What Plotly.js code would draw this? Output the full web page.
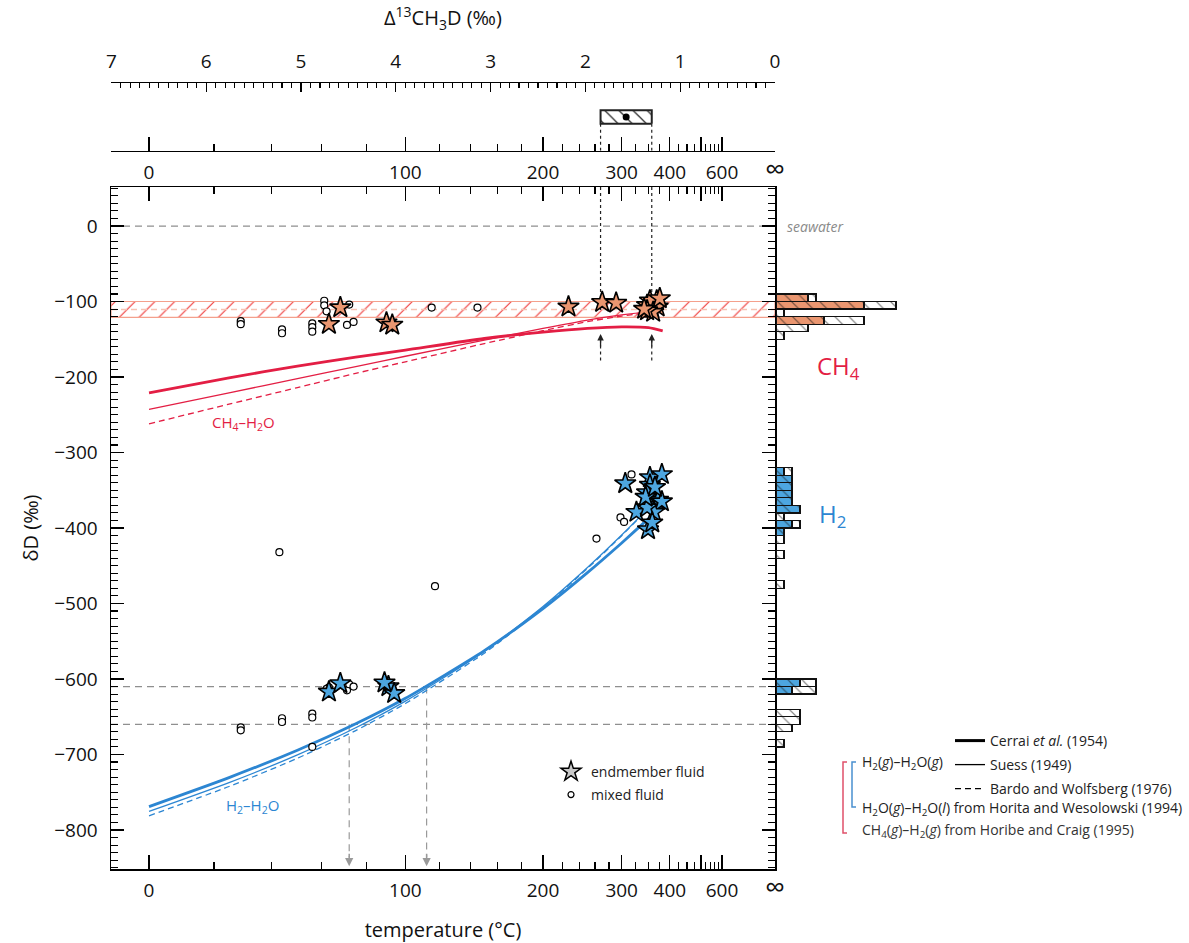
<!DOCTYPE html>
<html><head><meta charset="utf-8">
<script src="https://cdn.plot.ly/plotly-3.0.1.min.js"></script>
<style>html,body{margin:0;padding:0;background:#fff}</style>
</head><body><div id="chart" style="width:1189px;height:943px"></div>
<script>
// ---------------- data ----------------
const tempTickValues = [0,100,200,300,400,500,600,Infinity];
const tempTickLabels = ['0','100','200','300','400','','600','<span style="font-size:28px">∞</span>'];
const tempMinorTicks = [20,40,60,80,120,140,160,180,220,240,260,280,325,350,375,425,450,475,520,540,560,580];
const yTickValues = [-800,-700,-600,-500,-400,-300,-200,-100,0];
const yTickLabels = ['−800','−700','−600','−500','−400','−300','−200','−100','0'];

const curveTemps = [0,25,50,75,100,150,200,250,300,350,382];
const ch4Cerrai = [-221,-201,-185.6,-173.7,-164.3,-149,-140.5,-135.5,-133.5,-134.5,-139];
const ch4Suess  = [-243,-221,-202.2,-186.2,-172.5,-151.2,-135.7,-124.6,-117.8,-113.8,-112.4];
const ch4Bardo  = [-262,-236,-214,-195.2,-179.8,-155.7,-138.7,-126.7,-119.2,-114.9,-113.2];
const h2Cerrai  = [-769,-730.6,-694.3,-659.4,-625.6,-562.4,-506.7,-459.1,-419.8,-387.6,-370.5];
const h2Suess   = [-775.5,-737.3,-700.5,-664.6,-629.3,-563.5,-503.9,-452.3,-409.3,-373,-351];
const h2Bardo   = [-781.2,-742.4,-705,-668.3,-632.5,-565.8,-505.7,-453.6,-410.2,-373.7,-351.6];

const ch4EndTemp = [68,63,90,93,227,270,291,347,358,368,370,353,360,347,375,341];
const ch4EndDD   = [-108,-130,-128,-131,-107,-101,-102,-105,-109,-99,-107,-99,-114,-112,-96,-110];
const ch4MixTemp = [29,29,44,44,56,56,56,61,61,62,72,71,74,115,145];
const ch4MixDD   = [-126,-130,-137,-142,-129,-134,-140,-99,-105,-113,-104,-131,-127,-108,-108];

const h2EndTemp = [306,353,380,353,347,358,371,380,362,326,347,349,358,344,364,63,68,91,94,89];
const h2EndDD   = [-341,-333,-329,-343,-353,-359,-363,-365,-379,-379,-373,-402,-393,-359,-346,-617,-606,-610,-619,-605];
const h2MixTemp = [317,298,304,262,43,117,63,71,72,74,62,29,29,44,44,56,56,56];
const h2MixDD   = [-329,-386,-392,-414,-432,-477,-611,-615,-607,-610,-613,-664,-668,-652,-657,-646,-651,-690];

const ch4BinCenters = [-95,-105,-115,-125,-135,-145];
const ch4HistEnd    = [4,11,0,6,0,0];
const ch4HistAll    = [5,15,1,11,4,1];
const h2BinCenters  = [-325,-335,-345,-355,-365,-375,-385,-395,-405,-415,-435,-475,-605,-615,-645,-655,-665,-685];
const h2HistEnd     = [1,2,2,2,2,3,0,2,1,0,0,0,3,2,0,0,0,0];
const h2HistAll     = [2,2,2,2,2,3,1,3,1,1,1,1,5,5,3,3,2,1];

const seawaterDD = 0;
const ch4Band = [-121,-100];
const ch4BandMid = -110.5;
const h2RefDD = [-610,-660];
const h2RefTemp = [112,72];
const clumpedRange = [1.30,1.84];
const clumpedMean = 1.57;
const clumpedArrowDD = [-178,-143];

// ---------------- scale: temperature -> Δ13CH3D position ----------------
function tAx(tC){
  if(!isFinite(tC)) return 0;
  const X = 1000/(tC+273.15);
  return X*(-0.56812 + 1.04714*X - 0.10907*X*X);
}
const XMAX = 7.004;
const RED = '#e31e44', BLUE = '#2c86d2';
const ORANGE = '#ea9670', LBLUE = '#4da6e0';
const FONT = 'Open Sans, Noto Sans, sans-serif';

const traces = [];
// CH4 band
traces.push({x:[XMAX,0,0,XMAX,XMAX], y:[ch4Band[1],ch4Band[1],ch4Band[0],ch4Band[0],ch4Band[1]],
  mode:'lines', fill:'toself', fillcolor:'rgba(0,0,0,0)',
  fillpattern:{shape:'/', fgcolor:'#ef3535', bgcolor:'rgba(0,0,0,0)', size:14, solidity:0.08},
  line:{color:'#f4a08c', width:1.2}, showlegend:false, hoverinfo:'skip'});
traces.push({x:[XMAX,0], y:[ch4BandMid,ch4BandMid], mode:'lines', line:{color:'#f6c3b3', width:1.5, dash:'6px,4px'}, showlegend:false});
// reference dashed lines
[seawaterDD].concat(h2RefDD).forEach(v=>{
  traces.push({x:[XMAX,0], y:[v,v], mode:'lines', line:{color:'#8f8f8f', width:1.2, dash:'7px,5px'}, showlegend:false});
});
h2RefTemp.forEach((t,i)=>{
  traces.push({x:[tAx(t),tAx(t)], y:[h2RefDD[i],-836], mode:'lines', line:{color:'#9a9a9a', width:1.2, dash:'7px,5px'}, showlegend:false});
});
// dotted lines from clumped range
clumpedRange.forEach(d=>{
  traces.push({x:[d,d], y:[51.7,-112], mode:'lines', line:{color:'#222', width:1.2, dash:'3px,3px'}, showlegend:false});
  traces.push({x:[d,d], y:[clumpedArrowDD[0],clumpedArrowDD[1]-6], mode:'lines', line:{color:'#222', width:1.2, dash:'3px,3px'}, showlegend:false});
  traces.push({x:[d,d], y:[0,0.4], xaxis:'x3', yaxis:'y3', mode:'lines', line:{color:'#222', width:1.2, dash:'3px,3px'}, showlegend:false});
});
// clumped box
traces.push({x:[clumpedRange[0],clumpedRange[1],clumpedRange[1],clumpedRange[0],clumpedRange[0]], y:[0.4,0.4,0.6,0.6,0.4],
  xaxis:'x3', yaxis:'y3', mode:'lines', fill:'toself', fillcolor:'rgba(0,0,0,0)',
  fillpattern:{shape:'\\', fgcolor:'#222', bgcolor:'rgba(0,0,0,0)', size:10, solidity:0.12},
  line:{color:'#222', width:2}, showlegend:false});
traces.push({x:[clumpedMean], y:[0.5], xaxis:'x3', yaxis:'y3', mode:'markers', marker:{color:'#000', size:7}, showlegend:false});
// placeholder so the top-panel temperature axis is drawn
traces.push({x:[null], y:[null], xaxis:'x4', yaxis:'y3', mode:'markers', showlegend:false});

// curves
const cx = curveTemps.map(tAx);
function curve(y, color, w, dash){
  return {x:cx, y:y, mode:'lines', line:{color:color, width:w, dash:dash||'solid', shape:'spline', smoothing:0.6}, showlegend:false, hoverinfo:'skip'};
}
traces.push(curve(ch4Bardo, RED, 1.3, '6px,4px'));
traces.push(curve(ch4Suess, RED, 1.3));
traces.push(curve(ch4Cerrai, RED, 2.8));
traces.push(curve(h2Bardo, BLUE, 1.3, '6px,4px'));
traces.push(curve(h2Suess, BLUE, 1.3));
traces.push(curve(h2Cerrai, BLUE, 2.8));

// data points
traces.push({x:ch4MixTemp.map(tAx), y:ch4MixDD, mode:'markers', marker:{symbol:'circle', size:7, color:'#fff', line:{color:'#000', width:1.2}}, showlegend:false});
traces.push({x:h2MixTemp.map(tAx), y:h2MixDD, mode:'markers', marker:{symbol:'circle', size:7, color:'#fff', line:{color:'#000', width:1.2}}, showlegend:false});
traces.push({x:ch4EndTemp.map(tAx), y:ch4EndDD, mode:'markers', marker:{symbol:'star', size:16, color:ORANGE, line:{color:'#000', width:1.6}}, showlegend:false});
traces.push({x:h2EndTemp.map(tAx), y:h2EndDD, mode:'markers', marker:{symbol:'star', size:16, color:LBLUE, line:{color:'#000', width:1.6}}, showlegend:false});

// histograms
function hbar(centers, counts, color){
  return {type:'bar', orientation:'h', x:counts, y:centers, width:10, xaxis:'x2', yaxis:'y',
    marker:{color:color, line:{color:'#111', width:1.2},
      pattern:{shape:'\\', fgcolor:'#111', fillmode:'overlay', size:10, solidity:0.12}},
    showlegend:false, hoverinfo:'skip'};
}
traces.push(hbar(ch4BinCenters, ch4HistEnd, ORANGE));
traces.push(hbar(ch4BinCenters, ch4HistAll.map((v,i)=>v-ch4HistEnd[i]), '#ffffff'));
traces.push(hbar(h2BinCenters, h2HistEnd, LBLUE));
traces.push(hbar(h2BinCenters, h2HistAll.map((v,i)=>v-h2HistEnd[i]), '#ffffff'));

// legend dummies
traces.push({x:[null], y:[null], name:'endmember fluid', mode:'markers', marker:{symbol:'star', size:15, color:'#c8c8c8', line:{color:'#000', width:1.5}}, legend:'legend'});
traces.push({x:[null], y:[null], name:'mixed fluid', mode:'markers', marker:{symbol:'circle', size:6, color:'#fff', line:{color:'#000', width:1.2}}, legend:'legend2'});
traces.push({x:[null], y:[null], name:'Cerrai <i>et al.</i> (1954)', mode:'lines', line:{color:'#000', width:3}, legend:'legend3'});
traces.push({x:[null], y:[null], name:'Suess (1949)', mode:'lines', line:{color:'#000', width:1.3}, legend:'legend4'});
traces.push({x:[null], y:[null], name:'Bardo and Wolfsberg (1976)', mode:'lines', line:{color:'#000', width:1.3, dash:'6px,4px'}, legend:'legend5'});

const W=1189, H=943;
const px = v=>v/W, py = v=>1-v/H;
const legBase = {bgcolor:'rgba(0,0,0,0)', borderwidth:0, font:{family:FONT, size:14, color:'#222'}, xanchor:'left', yanchor:'top', itemwidth:30};

const tickVals = tempTickValues.map(tAx);
const minorVals = tempMinorTicks.map(tAx);
const xTempCommon = {
  range:[XMAX,0], tickmode:'array', tickvals:tickVals, ticktext:tempTickLabels,
  ticks:'inside', ticklen:14, tickwidth:1.3, tickcolor:'#000',
  minor:{tickmode:'array', tickvals:minorVals, ticks:'inside', ticklen:7, tickwidth:1.1, tickcolor:'#000'},
  showline:true, linecolor:'#000', linewidth:1.5, showgrid:false, zeroline:false,
  tickfont:{family:FONT, size:19, color:'#111'}, automargin:false
};

function note(text, x, y, size, color, xanchor, refs){
  return Object.assign({text:text, x:x, y:y, xref:'paper', yref:'paper', showarrow:false,
    xanchor:xanchor||'center', yanchor:'middle', font:{family:FONT, size:size, color:color}}, refs||{});
}
const annotations = [
  note('Δ<sup>13</sup>CH<sub>3</sub>D (‰)', px(443), py(18), 20, '#111'),
  note('<i>seawater</i>', px(785), seawaterDD, 14, '#8a8a8a', 'left', {yref:'y'}),
  note('CH<sub>4</sub>', px(838), -187, 24, RED, 'center', {yref:'y'}),
  note('H<sub>2</sub>', px(832), -383, 24, BLUE, 'center', {yref:'y'}),
  note('CH<sub>4</sub>–H<sub>2</sub>O', tAx(30), -261, 15, RED, 'center', {xref:'x', yref:'y'}),
  note('H<sub>2</sub>–H<sub>2</sub>O', tAx(33), -768, 15, BLUE, 'center', {xref:'x', yref:'y'}),
  note('H<sub>2</sub>(<i>g</i>)–H<sub>2</sub>O(<i>g</i>)', px(860), py(762), 14, '#222', 'left'),
  note('H<sub>2</sub>O(<i>g</i>)–H<sub>2</sub>O(<i>l</i>) from Horita and Wesolowski (1994)', px(860), py(808), 14, '#222', 'left'),
  note('CH<sub>4</sub>(<i>g</i>)–H<sub>2</sub>(<i>g</i>) from Horibe and Craig (1995)', px(860), py(830), 14, '#333', 'left')
];
h2RefTemp.forEach(t=>{
  annotations.push({x:tAx(t), y:-848, xref:'x', yref:'y', ax:0, ay:-14, text:'', showarrow:true, arrowhead:2, arrowsize:1.1, arrowwidth:1.5, arrowcolor:'#9a9a9a'});
});
clumpedRange.forEach(d=>{
  annotations.push({x:d, y:clumpedArrowDD[1], xref:'x', yref:'y', ax:0, ay:14, text:'', showarrow:true, arrowhead:2, arrowsize:1, arrowwidth:1.3, arrowcolor:'#222'});
});

const shapes = [
  {type:'path', xref:'paper', yref:'paper', path:`M ${px(847)} ${py(762)} L ${px(843)} ${py(762)} L ${px(843)} ${py(833)} L ${px(847)} ${py(833)}`, line:{color:'#e0506a', width:1.5}},
  {type:'path', xref:'paper', yref:'paper', path:`M ${px(856)} ${py(762)} L ${px(852)} ${py(762)} L ${px(852)} ${py(807)} L ${px(856)} ${py(807)}`, line:{color:'#4a90d0', width:1.5}}
];

const layout = {
  width:W, height:H, margin:{l:0,r:0,t:0,b:0}, paper_bgcolor:'#fff', plot_bgcolor:'rgba(0,0,0,0)',
  font:{family:FONT, color:'#111'}, barmode:'stack', bargap:0, showlegend:true,
  xaxis: Object.assign({}, xTempCommon, {domain:[px(111), px(775)], anchor:'y', mirror:'ticks', ticklabelstandoff:4,
     title:{text:'temperature (°C)', font:{family:FONT, size:20, color:'#111'}, standoff:20}}),
  yaxis: {domain:[py(869), py(187)], range:[-851.7,51.7], anchor:'x', tickmode:'array', tickvals:yTickValues, ticktext:yTickLabels,
     ticks:'inside', ticklen:13, tickwidth:1.3, tickcolor:'#000', mirror:'ticks',
     minor:{dtick:10, tick0:0, ticks:'inside', ticklen:7, tickwidth:1.1, tickcolor:'#000'},
     showline:true, linecolor:'#000', linewidth:1.5, showgrid:false, zeroline:false, automargin:false,
     tickfont:{family:FONT, size:19, color:'#111'}, ticklabelstandoff:8,
     title:{text:'δD (‰)', font:{family:FONT, size:20, color:'#111'}, standoff:10}},
  xaxis2: {domain:[px(776), px(1000)], range:[0,28], anchor:'y', visible:false, fixedrange:true},
  xaxis3: {domain:[px(111), px(775)], range:[XMAX,0], anchor:'y3', side:'top', tickmode:'linear', tick0:0, dtick:1,
     ticks:'inside', ticklen:9, tickwidth:1.3, tickcolor:'#000',
     minor:{dtick:0.1, tick0:0, ticks:'inside', ticklen:5, tickwidth:1.1, tickcolor:'#000'},
     showline:true, linecolor:'#000', linewidth:1.5, showgrid:false, zeroline:false, automargin:false,
     tickfont:{family:FONT, size:19, color:'#111'}, ticklabelstandoff:6},
  xaxis4: Object.assign({}, xTempCommon, {overlaying:'x3', anchor:'y3', side:'bottom', ticklabelstandoff:4}),
  yaxis3: {domain:[py(150.7), py(83.3)], range:[0,1], anchor:'x3', visible:false},
  legend: Object.assign({}, legBase, {x:px(551), y:py(756)}),
  legend2: Object.assign({}, legBase, {x:px(551), y:py(779)}),
  legend3: Object.assign({}, legBase, {x:px(950), y:py(725)}),
  legend4: Object.assign({}, legBase, {x:px(950), y:py(749)}),
  legend5: Object.assign({}, legBase, {x:px(950), y:py(773)}),
  annotations: annotations, shapes: shapes
};

Plotly.newPlot('chart', traces, layout, {displayModeBar:false, staticPlot:true});
</script>
</body></html>
